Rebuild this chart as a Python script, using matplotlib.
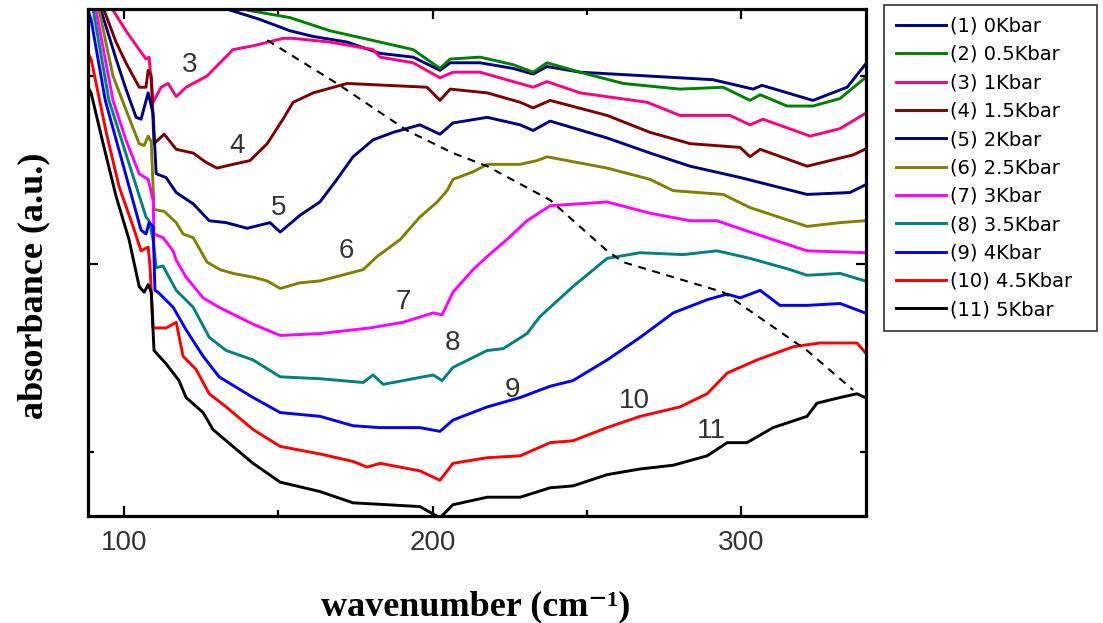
import matplotlib.pyplot as plt

# absorbance spectra under pressure: wavenumber (cm-1) / absorbance (a.u.)
wn1 = [124.6, 134.4, 144.1, 153.8, 161.3, 172.3, 183.0, 193.7, 202.4, 205.7, 215.4, 226.1,
       232.6, 237.1, 247.8, 269.5, 290.9, 303.9, 306.8, 323.3, 334.4, 340.2]
ab1 = [3.72, 3.35, 3.30, 3.24, 3.21, 3.18, 3.12, 3.10, 3.03, 3.07, 3.07, 3.04,
       3.01, 3.05, 3.02, 3.00, 2.98, 2.93, 2.95, 2.87, 2.94, 3.06]

wn2 = [131.1, 139.9, 153.8, 166.8, 183.0, 193.7, 202.4, 205.7, 215.4, 226.1, 232.6, 237.1,
       247.8, 261.8, 280.2, 294.2, 302.9, 306.2, 314.9, 323.3, 332.1, 340.2]
ab2 = [3.62, 3.35, 3.31, 3.24, 3.18, 3.14, 3.04, 3.09, 3.10, 3.06, 3.02, 3.07,
       3.02, 2.96, 2.93, 2.94, 2.87, 2.90, 2.84, 2.84, 2.88, 2.99]

wn3 = [95.5, 96.4, 100.6, 104.9, 107.1, 108.1, 109.4, 112.0, 114.3, 116.9, 120.1, 126.9,
       131.1, 135.3, 141.8, 151.5, 154.8, 166.8, 180.7, 183.0, 193.7, 202.4, 206.6, 215.4,
       226.1, 232.6, 237.1, 247.8, 269.5, 280.2, 296.4, 302.9, 307.1, 322.4, 332.1, 340.2]
ab3 = [3.51, 3.35, 3.24, 3.14, 3.09, 3.10, 2.86, 2.94, 2.96, 2.89, 2.94, 3.00,
       3.07, 3.14, 3.16, 3.20, 3.20, 3.18, 3.14, 3.10, 3.07, 2.99, 3.02, 3.02,
       2.97, 2.94, 2.97, 2.91, 2.86, 2.79, 2.79, 2.74, 2.77, 2.68, 2.72, 2.80]

wn4 = [92.5, 93.5, 97.4, 100.6, 104.9, 107.1, 107.8, 108.8, 109.7, 113.0, 116.9, 122.4,
       126.6, 130.1, 135.3, 140.8, 146.4, 151.5, 154.8, 161.3, 172.3, 185.3, 198.2, 202.4,
       205.7, 217.7, 228.4, 232.6, 238.1, 256.6, 270.5, 283.5, 299.7, 302.9, 306.2, 321.4,
       336.3, 340.2]
ab4 = [3.51, 3.35, 3.18, 3.07, 2.94, 2.94, 3.03, 3.00, 2.64, 2.69, 2.61, 2.59,
       2.54, 2.51, 2.53, 2.55, 2.64, 2.77, 2.86, 2.91, 2.96, 2.95, 2.94, 2.87,
       2.93, 2.91, 2.86, 2.83, 2.87, 2.79, 2.70, 2.64, 2.62, 2.57, 2.61, 2.52,
       2.58, 2.61]

wn5 = [91.9, 92.5, 97.4, 100.6, 103.9, 105.5, 107.8, 109.4, 110.4, 113.6, 116.9, 122.4,
       127.6, 133.1, 139.9, 147.3, 150.6, 157.1, 163.5, 169.0, 174.2, 180.7, 187.2, 195.9,
       202.4, 206.6, 217.7, 228.4, 232.6, 238.1, 256.6, 270.5, 283.5, 299.7, 321.4, 335.3,
       340.2]
ab5 = [3.51, 3.35, 3.09, 2.93, 2.78, 2.77, 2.91, 2.80, 2.48, 2.46, 2.38, 2.32,
       2.23, 2.22, 2.19, 2.22, 2.17, 2.26, 2.33, 2.45, 2.57, 2.66, 2.70, 2.74,
       2.69, 2.75, 2.78, 2.74, 2.71, 2.76, 2.67, 2.59, 2.52, 2.46, 2.37, 2.38,
       2.42]

wn6 = [90.9, 91.9, 96.4, 100.6, 104.9, 106.5, 107.8, 108.8, 109.7, 113.0, 116.9, 119.1,
       122.4, 126.9, 131.1, 135.3, 141.8, 146.4, 150.6, 157.1, 163.5, 177.5, 182.0, 189.5,
       195.9, 201.5, 204.7, 206.6, 213.1, 217.7, 228.4, 233.9, 237.1, 256.6, 270.5, 278.0,
       294.2, 302.9, 321.4, 332.1, 340.2]
ab6 = [3.51, 3.35, 3.00, 2.82, 2.64, 2.63, 2.68, 2.65, 2.29, 2.28, 2.22, 2.16,
       2.14, 2.01, 1.97, 1.95, 1.93, 1.91, 1.87, 1.90, 1.91, 1.97, 2.04, 2.13,
       2.25, 2.33, 2.39, 2.45, 2.49, 2.53, 2.53, 2.55, 2.57, 2.51, 2.45, 2.39,
       2.37, 2.30, 2.20, 2.22, 2.23]

wn7 = [90.0, 90.9, 96.4, 100.6, 104.9, 107.8, 109.4, 109.7, 112.6, 115.9, 116.9, 120.1,
       125.6, 130.8, 141.8, 150.6, 163.5, 179.7, 190.4, 200.2, 203.1, 206.6, 213.1, 217.7,
       224.1, 230.6, 238.1, 256.6, 270.5, 283.5, 292.2, 302.9, 321.4, 340.2]
ab7 = [3.51, 3.35, 2.87, 2.66, 2.48, 2.45, 2.34, 2.16, 2.14, 2.07, 2.02, 1.93,
       1.82, 1.77, 1.68, 1.62, 1.63, 1.66, 1.69, 1.74, 1.73, 1.85, 1.97, 2.04,
       2.13, 2.23, 2.31, 2.33, 2.27, 2.23, 2.23, 2.17, 2.07, 2.06]

wn8 = [89.0, 90.0, 95.1, 107.1, 108.1, 109.4, 110.4, 112.6, 116.9, 122.4, 127.6, 133.1,
       141.8, 150.6, 163.5, 177.5, 180.7, 184.0, 200.2, 203.1, 206.6, 217.7, 222.9, 230.6,
       234.8, 245.5, 256.6, 267.3, 281.2, 292.2, 302.9, 315.9, 321.4, 332.1, 340.2]
ab8 = [3.51, 3.35, 2.87, 2.25, 2.23, 2.13, 1.98, 1.99, 1.86, 1.77, 1.61, 1.54,
       1.49, 1.40, 1.39, 1.37, 1.41, 1.36, 1.41, 1.38, 1.45, 1.54, 1.55, 1.63,
       1.72, 1.88, 2.03, 2.06, 2.05, 2.07, 2.03, 1.97, 1.94, 1.95, 1.91]

wn9 = [88.0, 89.3, 93.9, 105.5, 107.1, 108.1, 109.4, 110.0, 111.0, 115.9, 120.1, 125.6,
       130.8, 141.8, 150.6, 163.5, 174.2, 183.0, 195.9, 202.4, 206.6, 217.7, 228.4, 238.1,
       245.5, 256.6, 267.3, 278.0, 289.0, 295.5, 299.7, 306.2, 312.6, 321.4, 332.1, 340.2]
ab9 = [3.36, 3.30, 2.87, 2.18, 2.16, 2.22, 2.20, 1.86, 1.85, 1.77, 1.65, 1.51,
       1.40, 1.29, 1.21, 1.19, 1.14, 1.13, 1.13, 1.11, 1.17, 1.24, 1.29, 1.35,
       1.38, 1.49, 1.61, 1.74, 1.81, 1.84, 1.82, 1.86, 1.78, 1.78, 1.79, 1.74]

wn10 = [88.0, 89.3, 94.2, 98.4, 102.9, 105.5, 107.8, 108.4, 109.4, 113.6, 116.9, 119.1,
        123.3, 127.6, 133.1, 141.8, 150.6, 163.5, 174.2, 178.8, 183.0, 195.9, 202.4, 206.6,
        217.7, 228.4, 238.1, 245.5, 256.6, 267.3, 280.2, 289.0, 295.5, 305.2, 316.9, 325.6,
        337.6, 340.2]
ab10 = [3.13, 3.09, 2.70, 2.41, 2.20, 2.07, 2.09, 1.99, 1.66, 1.66, 1.69, 1.51,
        1.44, 1.31, 1.24, 1.12, 1.03, 0.99, 0.95, 0.92, 0.94, 0.90, 0.85, 0.94,
        0.97, 0.98, 1.05, 1.06, 1.13, 1.19, 1.24, 1.31, 1.42, 1.49, 1.56, 1.58,
        1.58, 1.53]

wn11 = [88.0, 89.3, 93.2, 97.4, 101.6, 104.9, 106.5, 107.8, 108.8, 109.7, 113.6, 117.8,
        120.1, 125.6, 128.8, 133.1, 141.8, 150.6, 163.5, 174.2, 185.3, 195.9, 202.4, 206.6,
        217.7, 228.4, 238.1, 245.5, 256.6, 267.3, 278.0, 289.0, 295.5, 301.9, 310.4, 321.4,
        324.6, 332.1, 337.6, 340.2]
ab11 = [2.95, 2.91, 2.64, 2.36, 2.13, 1.88, 1.85, 1.89, 1.85, 1.54, 1.47, 1.38,
        1.29, 1.21, 1.12, 1.06, 0.94, 0.84, 0.79, 0.73, 0.72, 0.71, 0.65, 0.72,
        0.76, 0.76, 0.81, 0.82, 0.88, 0.91, 0.93, 0.98, 1.05, 1.05, 1.13, 1.19,
        1.26, 1.29, 1.31, 1.29]

series_wn = [wn1, wn2, wn3, wn4, wn5, wn6, wn7, wn8, wn9, wn10, wn11]
series_ab = [ab1, ab2, ab3, ab4, ab5, ab6, ab7, ab8, ab9, ab10, ab11]

legend_labels = ["(1) 0Kbar", "(2) 0.5Kbar", "(3) 1Kbar", "(4) 1.5Kbar", "(5) 2Kbar",
                 "(6) 2.5Kbar", "(7) 3Kbar", "(8) 3.5Kbar", "(9) 4Kbar", "(10) 4.5Kbar",
                 "(11) 5Kbar"]
colors = ["#000080", "#008000", "#ff0080", "#800000", "#000080", "#808000",
          "#ff00ff", "#008080", "#0000ff", "#ff0000", "#000000"]

# numbers written next to curves 3..11
tag_text = ["3", "4", "5", "6", "7", "8", "9", "10", "11"]
tag_wn = [121.4, 136.6, 150.2, 172.0, 190.4, 206.3, 225.8, 265.3, 290.3]
tag_ab = [3.06, 2.63, 2.30, 2.07, 1.80, 1.58, 1.33, 1.27, 1.11]

# dashed guide through the band maxima
peak_wn = [146.4, 169.0, 191.7, 206.6, 217.7, 238.1, 256.6, 261.8, 294.2, 321.4, 336.3]
peak_ab = [3.19, 2.96, 2.71, 2.59, 2.52, 2.34, 2.07, 2.01, 1.85, 1.54, 1.33]

fig = plt.figure(figsize=(11.03, 6.23), dpi=100)
ax = fig.add_axes([88 / 1103, 1 - 516 / 623, 778 / 1103, 507 / 623])

lines = []
for wn, ab, c, lab in zip(series_wn, series_ab, colors, legend_labels):
    (ln,) = ax.plot(wn, ab, color=c, lw=2.1, label=lab)
    lines.append(ln)

ax.plot(peak_wn, peak_ab, color="k", lw=1.5, ls="--", dashes=(3.8, 3.2))

for t, x, y in zip(tag_text, tag_wn, tag_ab):
    ax.text(x, y, t, ha="center", va="center", fontsize=20, color="#333333",
            family="Liberation Sans")

ax.set_xlim(88.3, 340.5)
ax.set_ylim(0.66, 3.356)
ax.set_xticks([100, 200, 300])
ax.set_xticks([150, 250], minor=True)
ax.set_yticks([2])
ax.set_yticks([1, 3], minor=True)
ax.set_yticklabels([])
ax.tick_params(which="both", direction="in", top=True, right=True, width=1.6,
               labelsize=20, labelcolor="#333333", pad=10)
ax.tick_params(which="major", length=7)
ax.tick_params(which="minor", length=4)
for lab in ax.get_xticklabels():
    lab.set_family("Liberation Sans")
for sp in ax.spines.values():
    sp.set_linewidth(2.3)

fig.text(42 / 1103, 1 - 286 / 623, "absorbance (a.u.)", rotation=90,
         rotation_mode="anchor", ha="center", va="baseline",
         family="Liberation Serif", weight="bold", fontsize=26)
fig.text(476 / 1103, 1 - 615 / 623, "wavenumber (cm\u207b\u00b9)",
         ha="center", va="baseline", family=["Liberation Serif", "DejaVu Serif"],
         weight="bold", fontsize=26)

leg = fig.legend(handles=lines, loc="upper left",
                 bbox_to_anchor=(884 / 1103, 0.4, 213 / 1103, 1 - 5 / 623 - 0.4),
                 mode="expand", borderaxespad=0, fancybox=False, framealpha=1,
                 edgecolor="#333333", prop={"family": "DejaVu Sans", "size": 14},
                 handlelength=2.6, handletextpad=0.2, borderpad=0.6, labelspacing=0.48)
leg.get_frame().set_linewidth(1.2)
for h in leg.get_lines():
    h.set_linewidth(2.1)

fig.savefig("out.png", dpi=100)
